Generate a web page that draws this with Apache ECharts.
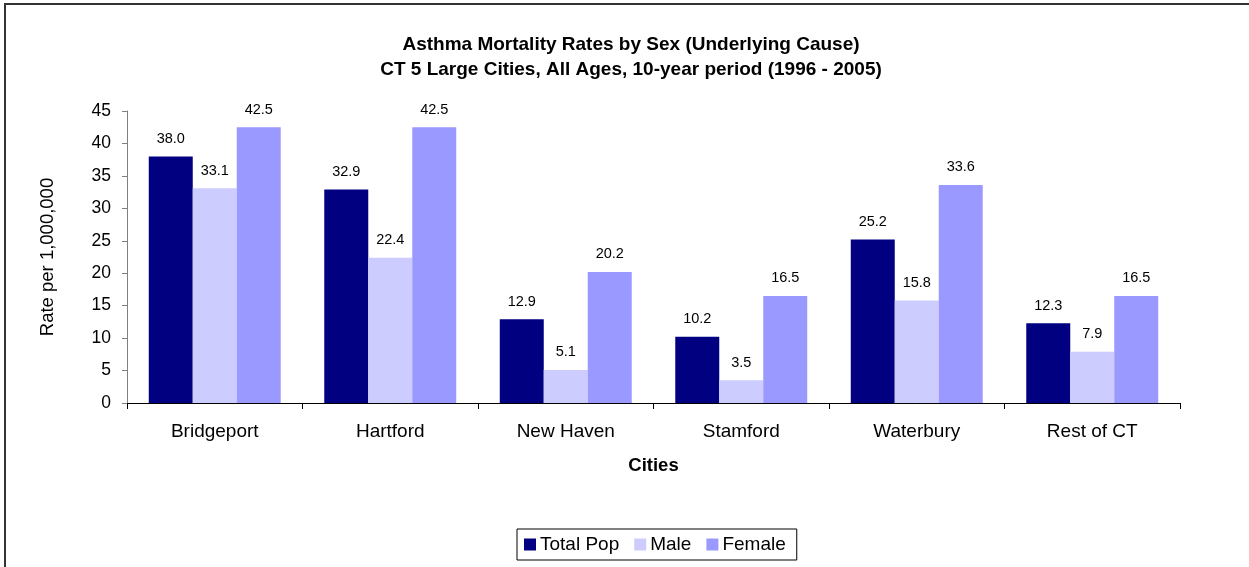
<!DOCTYPE html>
<html>
<head>
<meta charset="utf-8">
<script src="https://cdn.jsdelivr.net/npm/echarts@6/dist/echarts.min.js"></script>
<style>
html,body{margin:0;padding:0;background:#fff;}
#chart{width:1249px;height:567px;}
</style>
</head>
<body>
<div id="chart"></div>
<script>
var categories = ['Bridgeport', 'Hartford', 'New Haven', 'Stamford', 'Waterbury', 'Rest of CT'];
var totalPop = [38.0, 32.9, 12.9, 10.2, 25.2, 12.3];
var male = [33.1, 22.4, 5.1, 3.5, 15.8, 7.9];
var female = [42.5, 42.5, 20.2, 16.5, 33.6, 16.5];
var yTicks = [0, 5, 10, 15, 20, 25, 30, 35, 40, 45];

var FONT = 'Liberation Sans, Arial, sans-serif';
var chart = echarts.init(document.getElementById('chart'));

function mkSeries(name, data, color) {
  return {
    name: name,
    type: 'bar',
    data: data,
    barGap: '0%',
    barCategoryGap: '24.8%',
    itemStyle: { color: color },
    label: {
      show: true,
      position: 'top',
      distance: 10,
      fontFamily: FONT,
      fontSize: 14.5,
      color: '#000',
      formatter: function (p) { return p.value.toFixed(1); }
    }
  };
}

chart.setOption({
  animation: false,
  backgroundColor: '#fff',
  textStyle: { fontFamily: FONT },
  graphic: [{
    type: 'rect',
    shape: { x: 5, y: 4, width: 1300, height: 700 },
    style: { fill: 'none', stroke: '#333', lineWidth: 2 },
    silent: true
  }],
  title: {
    text: 'Asthma Mortality Rates by Sex (Underlying Cause)\nCT 5 Large Cities, All Ages, 10-year period (1996 - 2005)',
    left: 631,
    textAlign: 'center',
    top: 32,
    padding: 0,
    textStyle: { fontFamily: FONT, fontSize: 19, fontWeight: 'bold', color: '#000', lineHeight: 25 }
  },
  legend: {
    data: ['Total Pop', 'Male', 'Female'],
    left: 517,
    top: 529,
    itemWidth: 12,
    itemHeight: 12,
    itemGap: 15,
    padding: [6, 11, 6, 7],
    borderColor: '#000',
    borderWidth: 1,
    icon: 'rect',
    textStyle: { fontFamily: FONT, fontSize: 19, color: '#000', padding: [0, 0, 0, -1] }
  },
  grid: { left: 127, top: 111, width: 1053, height: 292, containLabel: false },
  xAxis: {
    type: 'category',
    data: categories,
    name: 'Cities',
    nameLocation: 'middle',
    nameGap: 53,
    nameTextStyle: { fontFamily: FONT, fontSize: 18.5, fontWeight: 'bold', color: '#000' },
    axisLine: { lineStyle: { color: '#000', width: 1 } },
    axisTick: { show: true, alignWithLabel: false, length: 6, lineStyle: { color: '#000' } },
    axisLabel: { fontFamily: FONT, fontSize: 19, color: '#000', margin: 19 }
  },
  yAxis: {
    type: 'value',
    min: yTicks[0],
    max: yTicks[yTicks.length - 1],
    interval: 5,
    name: 'Rate per 1,000,000',
    nameLocation: 'middle',
    nameGap: 70,
    nameTextStyle: { fontFamily: FONT, fontSize: 18.5, color: '#000' },
    axisLine: { show: true, lineStyle: { color: '#808080', width: 1 } },
    axisTick: { show: true, length: 5, lineStyle: { color: '#808080' } },
    axisLabel: { fontFamily: FONT, fontSize: 17.5, color: '#000', margin: 16 },
    splitLine: { show: false }
  },
  series: [
    mkSeries('Total Pop', totalPop, '#000080'),
    mkSeries('Male', male, '#CCCCFF'),
    mkSeries('Female', female, '#9999FF')
  ]
});
</script>
</body>
</html>
